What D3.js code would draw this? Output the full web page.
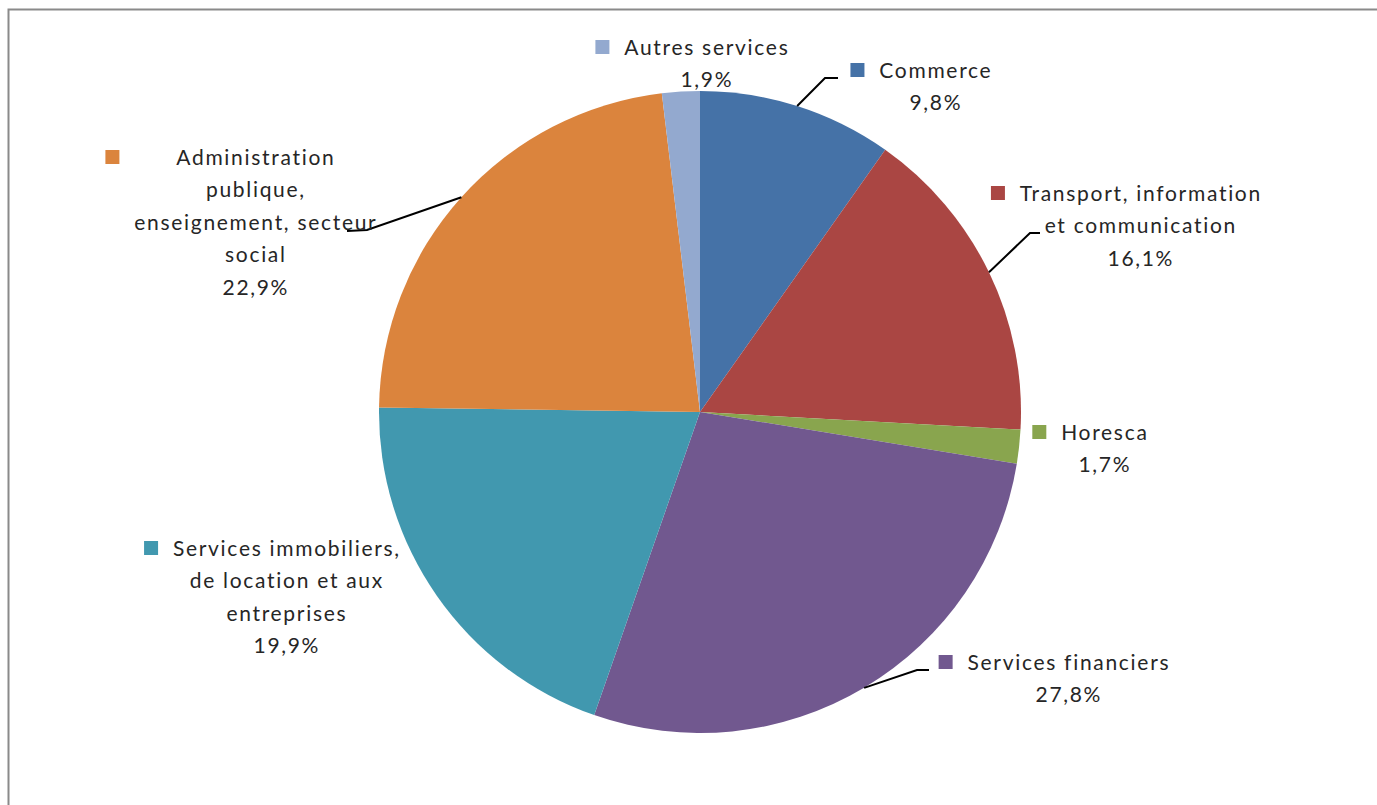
<!DOCTYPE html>
<html><head><meta charset="utf-8">
<script src="https://cdn.jsdelivr.net/npm/d3@7"></script>
<style>
html,body{margin:0;padding:0;background:#fff;overflow:hidden;}
svg{display:block;}
</style></head>
<body>
<svg id="chart" width="1377" height="805"></svg>
<script>
// ---- data ----
const categories = [
  "Commerce",
  "Transport, information et communication",
  "Horesca",
  "Services financiers",
  "Services immobiliers, de location et aux entreprises",
  "Administration publique, enseignement, secteur social",
  "Autres services"
];
const values = [9.8, 16.1, 1.7, 27.8, 19.9, 22.9, 1.9];
const valueLabels = ["9,8%", "16,1%", "1,7%", "27,8%", "19,9%", "22,9%", "1,9%"];
const colors = ["#4572A7", "#AA4643", "#89A54E", "#71588F", "#4198AF", "#DB843D", "#93A9CF"];
// how each category name is wrapped in its label
const labelLines = [
  ["Commerce"],
  ["Transport, information", "et communication"],
  ["Horesca"],
  ["Services financiers"],
  ["Services immobiliers,", "de location et aux", "entreprises"],
  ["Administration", "publique,", "enseignement, secteur", "social"],
  ["Autres services"]
];

// ---- layout ----
const cx = 700, cy = 412, R = 321;
const lineH = 32.5;
// label text centre x, first line centre y, leader elbow & end (null when no leader)
const labelLayout = [
  {x: 935,  y: 70,  leader: [[825, 78], [838, 78]]},
  {x: 1140, y: 193, leader: [[1030, 233], [1040, 233]]},
  {x: 1104, y: 432, leader: null},
  {x: 1068, y: 662, leader: [[917, 670], [929, 670]]},
  {x: 286,  y: 548, leader: null},
  {x: 255,  y: 157, leader: [[367, 230], [347, 231]]},
  {x: 706,  y: 47,  leader: null}
];

const svg = d3.select("#chart");

// frame
svg.append("rect")
  .attr("x", 8.5).attr("y", 9.5)
  .attr("width", 1420).attr("height", 900)
  .attr("fill", "none").attr("stroke", "#8a8a8a").attr("stroke-width", 2);

const pie = d3.pie().sort(null).value(d => d)(values);
const arc = d3.arc().innerRadius(0).outerRadius(R);

const g = svg.append("g").attr("transform", `translate(${cx},${cy})`);
g.selectAll("path.slice").data(pie).join("path")
  .attr("class", "slice")
  .attr("d", arc)
  .attr("fill", (d, i) => colors[i]);

// leader lines
function edgePoint(d) {
  const a = (d.startAngle + d.endAngle) / 2;
  return [cx + R * Math.sin(a), cy - R * Math.cos(a)];
}
pie.forEach((d, i) => {
  const L = labelLayout[i].leader;
  if (!L) return;
  const pts = [edgePoint(d), ...L];
  svg.append("path")
    .attr("d", d3.line()(pts))
    .attr("fill", "none")
    .attr("stroke", "#000")
    .attr("stroke-width", 2);
});

// labels
const font = "Lato, 'Open Sans', sans-serif";
const fs = 21;
pie.forEach((d, i) => {
  const lay = labelLayout[i];
  const lines = labelLines[i].concat([valueLabels[i]]);
  const lg = svg.append("g");
  let maxW = 0;
  lines.forEach((t, k) => {
    const tx = lg.append("text")
      .attr("x", lay.x + 0.85)
      .attr("y", lay.y + k * lineH)
      .attr("dy", "0.36em")
      .attr("text-anchor", "middle")
      .attr("font-family", font)
      .attr("font-size", fs)
      .attr("letter-spacing", "1.7px")
      .attr("fill", "#262626")
      .text(t);
    maxW = Math.max(maxW, tx.node().getComputedTextLength());
  });
  lg.append("rect")
    .attr("x", lay.x - maxW / 2 - 28)
    .attr("y", lay.y - 7)
    .attr("width", 14).attr("height", 14)
    .attr("fill", colors[i]);
});
</script>
</body></html>
